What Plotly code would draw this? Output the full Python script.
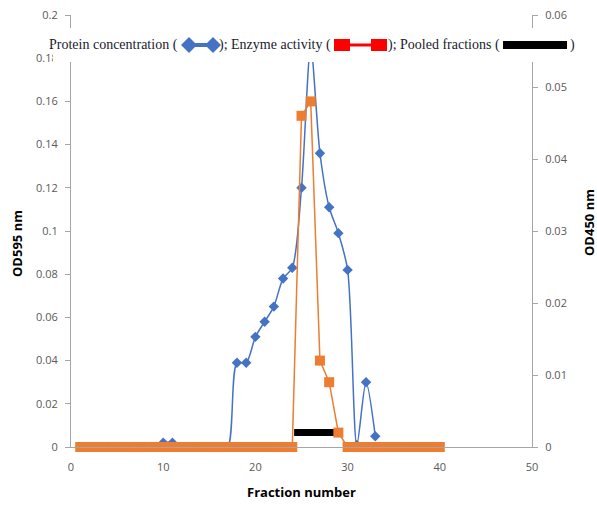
import plotly.graph_objects as go

# ---------------- data ----------------
protein_fraction = list(range(1, 34))
protein_od595 = [0, 0, 0, 0, 0, 0, 0, 0, 0, 0.002, 0.002, 0, 0, 0, 0, 0,
                 0, 0.039, 0.039, 0.051, 0.058, 0.065, 0.078, 0.083, 0.120,
                 0.185, 0.136, 0.111, 0.099, 0.082, 0.001, 0.030, 0.005]

enzyme_fraction = list(range(1, 41))
enzyme_od450 = [0] * 24 + [0.046, 0.048, 0.012, 0.009, 0.002] + [0] * 11

pooled_fraction = [24.2, 29.2]
pooled_level = [0.002, 0.002]

y1_ticks = [0, 0.02, 0.04, 0.06, 0.08, 0.1, 0.12, 0.14, 0.16, 0.18, 0.2]
y1_text = ["0", "0.02", "0.04", "0.06", "0.08", "0.1", "0.12", "0.14", "0.16", "0.18", "0.2"]
y2_ticks = [0, 0.01, 0.02, 0.03, 0.04, 0.05, 0.06]
y2_text = ["0", "0.01", "0.02", "0.03", "0.04", "0.05", "0.06"]
x_ticks = [0, 10, 20, 30, 40, 50]

BLUE = "#4472C4"
ORANGE = "#ED7D31"
AXIS = "#A6A6A6"
TICKFONT = dict(family="Open Sans", size=11, color="#595959")

W, H = 597, 506
# plot area in page pixels
PL, PR, PT, PB = 71, 532, 15, 447


def fx(p):
    return (p - PL) / (PR - PL)


def fy(p):
    return (PB - p) / (PB - PT)


fig = go.Figure()

fig.add_trace(go.Scatter(
    x=protein_fraction, y=protein_od595, mode="lines+markers",
    line=dict(color=BLUE, width=1.5, shape="spline", smoothing=0.8),
    marker=dict(symbol="diamond", size=8, color=BLUE),
    showlegend=False))

fig.add_trace(go.Scatter(
    x=pooled_fraction, y=pooled_level, yaxis="y2", mode="lines",
    line=dict(color="black", width=7), showlegend=False, cliponaxis=False))

fig.add_trace(go.Scatter(
    x=enzyme_fraction, y=enzyme_od450, yaxis="y2", mode="lines+markers",
    line=dict(color=ORANGE, width=1.5),
    marker=dict(symbol="square", size=10, color=ORANGE),
    showlegend=False, cliponaxis=False))

# ---------------- legend-like caption ----------------
shapes = []
annotations = []
ly = 45
shapes.append(dict(type="rect", xref="paper", yref="paper", layer="above",
                   x0=fx(53), x1=fx(576), y0=fy(62), y1=fy(28),
                   fillcolor="white", line=dict(width=0)))


def diamond(cx, cy, r, color):
    path = (f"M {fx(cx - r)} {fy(cy)} L {fx(cx)} {fy(cy - r)} "
            f"L {fx(cx + r)} {fy(cy)} L {fx(cx)} {fy(cy + r)} Z")
    return dict(type="path", xref="paper", yref="paper", layer="above",
                path=path, fillcolor=color, line=dict(width=0))


def rect(x0, x1, y0, y1, color):
    return dict(type="rect", xref="paper", yref="paper", layer="above",
                x0=fx(x0), x1=fx(x1), y0=fy(y1), y1=fy(y0),
                fillcolor=color, line=dict(width=0))


# blue icon
shapes.append(rect(188, 214, ly - 2, ly + 2, BLUE))
shapes.append(diamond(189, ly, 8, BLUE))
shapes.append(diamond(213, ly, 8, BLUE))
# red icon
shapes.append(rect(340, 382, ly - 1.5, ly + 1.5, "#FF0000"))
shapes.append(rect(334, 350, ly - 6, ly + 6, "#FF0000"))
shapes.append(rect(371, 387, ly - 6, ly + 6, "#FF0000"))
# black icon
shapes.append(rect(503, 567, ly - 4, ly + 4, "black"))

LEGFONT = dict(family="Liberation Serif", size=14, color="#1a1a2e")


def label(text, xpx, anchor):
    annotations.append(dict(text=text, xref="paper", yref="paper",
                            x=fx(xpx), y=fy(ly), xanchor=anchor, yanchor="middle",
                            showarrow=False, font=LEGFONT))


label("Protein concentration (", 180, "right")
label("); Enzyme activity (", 333, "right")
label("); Pooled fractions (", 502, "right")
label(")", 568, "left")

# axis titles
TITLEFONT = dict(family="Open Sans", size=13, color="black")
annotations.append(dict(text="<b>OD595 nm</b>", xref="paper", yref="paper",
                        x=fx(17), y=fy(244), textangle=-90, showarrow=False,
                        xanchor="center", yanchor="middle", font=TITLEFONT))
annotations.append(dict(text="<b>OD450 nm</b>", xref="paper", yref="paper",
                        x=fx(589), y=fy(223), textangle=-90, showarrow=False,
                        xanchor="center", yanchor="middle", font=TITLEFONT))
annotations.append(dict(text="<b>Fraction number</b>", xref="paper", yref="paper",
                        x=fx(301), y=fy(492), showarrow=False,
                        xanchor="center", yanchor="middle", font=TITLEFONT))

fig.update_layout(
    width=W, height=H,
    margin=dict(l=PL, r=W - PR, t=PT, b=H - PB, autoexpand=False),
    paper_bgcolor="white", plot_bgcolor="white",
    shapes=shapes, annotations=annotations,
    xaxis=dict(range=[0, 50], tickvals=x_ticks, showgrid=False, zeroline=False,
               showline=True, linecolor=AXIS, linewidth=1, ticks="",
               tickfont=TICKFONT, ticklabelstandoff=10, automargin=False),
    yaxis=dict(range=[0, 0.2], tickvals=y1_ticks, ticktext=y1_text,
               showgrid=False, zeroline=False, showline=True, linecolor=AXIS,
               linewidth=1, ticks="outside", ticklen=5, tickcolor=AXIS,
               tickfont=TICKFONT, ticklabelstandoff=5, automargin=False),
    yaxis2=dict(range=[0, 0.06], tickvals=y2_ticks, ticktext=y2_text,
                overlaying="y", side="right", anchor="x",
                showgrid=False, zeroline=False, showline=True, linecolor=AXIS,
                linewidth=1, ticks="outside", ticklen=5, tickcolor=AXIS,
                tickfont=TICKFONT, ticklabelstandoff=5, automargin=False),
)

fig.write_html("out.html",
               config={"displayModeBar": False},
               post_script="document.body.style.margin='0';")
